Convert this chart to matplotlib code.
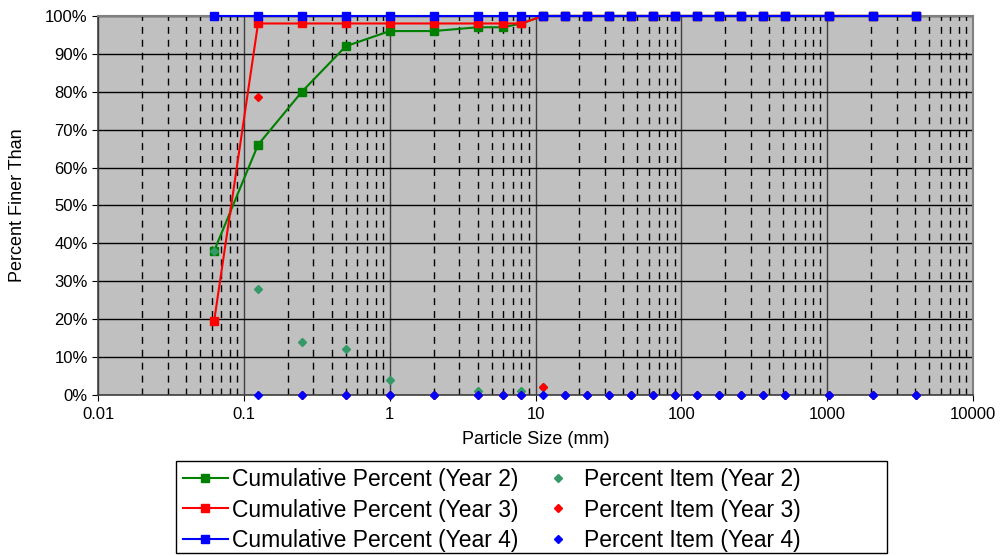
import numpy as np
import matplotlib
matplotlib.use('Agg')
import matplotlib.pyplot as plt
from matplotlib.patches import Rectangle
from matplotlib.ticker import FixedLocator, FuncFormatter, NullFormatter

plt.rcParams['font.family'] = ['Liberation Sans', 'DejaVu Sans']

# Sieve sizes (mm)
sizes = [0.0625, 0.125, 0.25, 0.5, 1, 2, 4, 6, 8, 11.3, 16, 22.6, 32, 45, 64, 90,
         128, 180, 256, 362, 512, 1024, 2048, 4096]

# Cumulative percent finer (%)
cum_y2 = [38, 66, 80, 92, 96, 96, 97, 97, 98] + [100] * 15
cum_y3 = [19.5] + [98] * 8 + [100] * 15
cum_y4 = [100] * 24

# Percent item (%)
item_y2 = [38, 28, 14, 12, 4, 0, 1, 0, 1, 2] + [0] * 14
item_y3 = [19.5, 78.5, 0, 0, 0, 0, 0, 0, 0, 2] + [0] * 14
item_y4 = [100] + [0] * 23

fig = plt.figure(figsize=(10.01, 5.56), dpi=100)
ax = fig.add_axes([0.098, 0.2896, 0.874, 0.6818])
ax.set_facecolor('#c0c0c0')

ax.set_xscale('log')
ax.set_xlim(0.01, 10000)
ax.set_ylim(0, 100)

# grid
ax.set_yticks(np.arange(0, 101, 10))
ax.yaxis.set_major_formatter(FuncFormatter(lambda v, p: '%d%%' % v))
ax.xaxis.set_major_locator(FixedLocator([0.01, 0.1, 1, 10, 100, 1000, 10000]))
ax.xaxis.set_major_formatter(FuncFormatter(lambda v, p: ('%g' % v)))
minors = [m * 10.0 ** e for e in range(-2, 4) for m in range(2, 10)]
ax.xaxis.set_minor_locator(FixedLocator(minors))
ax.xaxis.set_minor_formatter(NullFormatter())
ax.tick_params(axis='x', which='minor', length=0)
ax.tick_params(axis='both', which='major', length=4, direction='out', labelsize=12, color='black')
ax.tick_params(axis='x', which='major', pad=5)
ax.grid(True, axis='y', which='major', color='black', linewidth=1, linestyle='-')
ax.grid(True, axis='x', which='major', color='#404040', linewidth=1, linestyle='-')
ax.grid(True, axis='x', which='minor', color='black', linewidth=1, linestyle=(0, (5, 4.3)))
ax.set_axisbelow(True)

for s in ['top', 'right']:
    ax.spines[s].set_color('#808080')
    ax.spines[s].set_linewidth(1.5)
for s in ['left', 'bottom']:
    ax.spines[s].set_color('#404040')
    ax.spines[s].set_linewidth(1.2)

ax.set_xlabel('Particle Size (mm)', fontsize=13, labelpad=6)
ax.set_ylabel('Percent Finer Than', fontsize=13, labelpad=14)

l1, = ax.plot(sizes, cum_y2, color='#008000', marker='s', markersize=5.5, linewidth=1.5,
              clip_on=False, zorder=3, label='Cumulative Percent (Year 2)')
l2, = ax.plot(sizes, cum_y3, color='#ff0000', marker='s', markersize=5.5, linewidth=1.5,
              clip_on=False, zorder=4, label='Cumulative Percent (Year 3)')
l3, = ax.plot(sizes, cum_y4, color='#0000ff', marker='s', markersize=5.5, linewidth=1.5,
              clip_on=False, zorder=5, label='Cumulative Percent (Year 4)')
p1, = ax.plot(sizes, item_y2, color='#339966', marker='D', markersize=4, linestyle='none',
              clip_on=False, zorder=6, label='Percent Item (Year 2)')
p2, = ax.plot(sizes, item_y3, color='#ff0000', marker='D', markersize=4, linestyle='none',
              clip_on=False, zorder=7, label='Percent Item (Year 3)')
p3, = ax.plot(sizes, item_y4, color='#0000ff', marker='D', markersize=4, linestyle='none',
              clip_on=False, zorder=8, label='Percent Item (Year 4)')

# legend box drawn separately (Excel-style wide frame)
fig.patches.append(Rectangle((0.1758, 0.0054), 0.7103, 0.1655, transform=fig.transFigure,
                             facecolor='white', edgecolor='black', linewidth=1, zorder=0))
leg = fig.legend(handles=[l1, l2, l3, p1, p2, p3], loc='center left',
                 bbox_to_anchor=(183 / 1001, 1 - 510 / 556), ncol=2, fontsize=16.5,
                 frameon=False, handlelength=1.96, handletextpad=0.17,
                 columnspacing=0.74, labelspacing=0.32, borderpad=0, borderaxespad=0)

fig.savefig('out.png', dpi=100)
